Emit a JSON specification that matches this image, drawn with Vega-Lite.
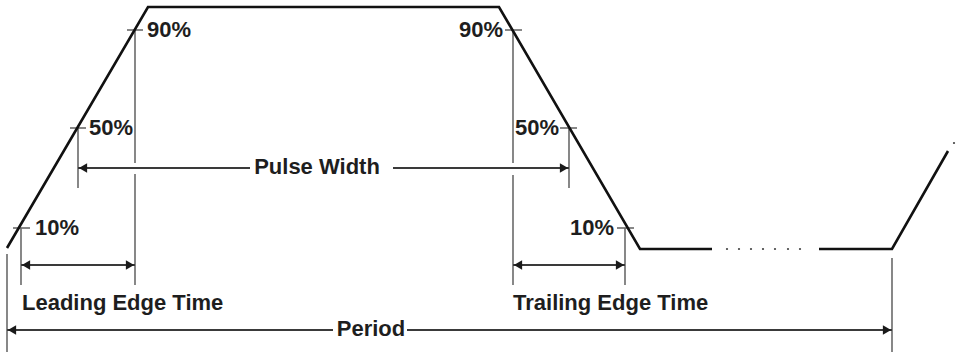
{
  "$schema": "https://vega.github.io/schema/vega-lite/v6.json",
  "width": 956,
  "height": 352,
  "padding": 0,
  "autosize": "none",
  "background": "white",
  "config": {"view": {"stroke": null}},
  "datasets": {
    "wave": [
      {"seg": 1, "i": 0, "x": 7, "y": 248},
      {"seg": 1, "i": 1, "x": 148, "y": 7},
      {"seg": 1, "i": 2, "x": 499, "y": 7},
      {"seg": 1, "i": 3, "x": 640, "y": 249},
      {"seg": 1, "i": 4, "x": 712, "y": 249},
      {"seg": 2, "i": 0, "x": 819, "y": 249},
      {"seg": 2, "i": 1, "x": 892, "y": 249},
      {"seg": 2, "i": 2, "x": 948, "y": 151}
    ],
    "dots": [
      {"x": 727, "y": 249}, {"x": 739, "y": 249}, {"x": 751, "y": 249}, {"x": 763, "y": 249},
      {"x": 775, "y": 249}, {"x": 788, "y": 249}, {"x": 800, "y": 249}, {"x": 954, "y": 143}
    ],
    "guides": [
      {"x": 127, "x2": 143, "y": 30, "y2": 30},
      {"x": 70, "x2": 86, "y": 128, "y2": 128},
      {"x": 13, "x2": 30, "y": 228, "y2": 228},
      {"x": 505, "x2": 522, "y": 30, "y2": 30},
      {"x": 560, "x2": 577, "y": 128, "y2": 128},
      {"x": 617, "x2": 634, "y": 228, "y2": 228},
      {"x": 135, "x2": 135, "y": 30, "y2": 163},
      {"x": 135, "x2": 135, "y": 174, "y2": 285},
      {"x": 78, "x2": 78, "y": 128, "y2": 188},
      {"x": 21, "x2": 21, "y": 228, "y2": 285},
      {"x": 513, "x2": 513, "y": 30, "y2": 163},
      {"x": 513, "x2": 513, "y": 175, "y2": 285},
      {"x": 569, "x2": 569, "y": 128, "y2": 188},
      {"x": 625, "x2": 625, "y": 228, "y2": 285},
      {"x": 7, "x2": 7, "y": 254, "y2": 352},
      {"x": 892, "x2": 892, "y": 258, "y2": 352}
    ],
    "arrows": [
      {"x": 21, "x2": 135, "y": 265, "y2": 265},
      {"x": 513, "x2": 625, "y": 265, "y2": 265},
      {"x": 78, "x2": 250, "y": 168, "y2": 168},
      {"x": 393, "x2": 569, "y": 168, "y2": 168},
      {"x": 7, "x2": 333, "y": 330, "y2": 330},
      {"x": 407, "x2": 892, "y": 330, "y2": 330}
    ],
    "heads": [
      {"dir": "left", "x": 21, "y": 265},
      {"dir": "left", "x": 513, "y": 265},
      {"dir": "left", "x": 78, "y": 168},
      {"dir": "left", "x": 7, "y": 330},
      {"dir": "right", "x": 135, "y": 265},
      {"dir": "right", "x": 625, "y": 265},
      {"dir": "right", "x": 569, "y": 168},
      {"dir": "right", "x": 892, "y": 330}
    ],
    "labels": [
      {"pos": "left", "label": "90%", "x": 147, "y": 30},
      {"pos": "left", "label": "50%", "x": 89, "y": 128},
      {"pos": "left", "label": "10%", "x": 35, "y": 228},
      {"pos": "left", "label": "Leading Edge Time", "x": 22, "y": 303},
      {"pos": "left", "label": "Trailing Edge Time", "x": 513, "y": 303},
      {"pos": "right", "label": "90%", "x": 503, "y": 30},
      {"pos": "right", "label": "50%", "x": 559, "y": 128},
      {"pos": "right", "label": "10%", "x": 614, "y": 228},
      {"pos": "center", "label": "Pulse Width", "x": 317, "y": 167},
      {"pos": "center", "label": "Period", "x": 371, "y": 329}
    ]
  },
  "encoding": {
    "x": {"field": "x", "type": "quantitative", "scale": {"domain": [0, 956], "nice": false, "zero": false}, "axis": null},
    "y": {"field": "y", "type": "quantitative", "scale": {"domain": [0, 352], "nice": false, "zero": false, "reverse": true}, "axis": null}
  },
  "layer": [
    {
      "data": {"name": "guides"},
      "mark": {"type": "rule", "color": "#6a6a6a", "strokeWidth": 1.6},
      "encoding": {"x2": {"field": "x2"}, "y2": {"field": "y2"}}
    },
    {
      "data": {"name": "arrows"},
      "mark": {"type": "rule", "color": "#3a3a3a", "strokeWidth": 2},
      "encoding": {"x2": {"field": "x2"}, "y2": {"field": "y2"}}
    },
    {
      "data": {"name": "heads"},
      "transform": [{"filter": "datum.dir === 'left'"}],
      "mark": {"type": "point", "shape": "triangle-left", "filled": true, "color": "#1a1a1a", "opacity": 1, "size": 90, "xOffset": 5}
    },
    {
      "data": {"name": "heads"},
      "transform": [{"filter": "datum.dir === 'right'"}],
      "mark": {"type": "point", "shape": "triangle-right", "filled": true, "color": "#1a1a1a", "opacity": 1, "size": 90, "xOffset": -5}
    },
    {
      "data": {"name": "wave"},
      "mark": {"type": "line", "color": "#111111", "strokeWidth": 2.6, "strokeJoin": "miter"},
      "encoding": {"detail": {"field": "seg"}, "order": {"field": "i", "type": "quantitative"}}
    },
    {
      "data": {"name": "dots"},
      "mark": {"type": "point", "shape": "circle", "filled": true, "color": "#444444", "opacity": 1, "size": 5}
    },
    {
      "data": {"name": "labels"},
      "transform": [{"filter": "datum.pos === 'left'"}],
      "mark": {"type": "text", "align": "left", "baseline": "middle", "font": "Liberation Sans", "fontWeight": "bold", "fontSize": 22, "color": "#1e1e1e"},
      "encoding": {"text": {"field": "label"}}
    },
    {
      "data": {"name": "labels"},
      "transform": [{"filter": "datum.pos === 'right'"}],
      "mark": {"type": "text", "align": "right", "baseline": "middle", "font": "Liberation Sans", "fontWeight": "bold", "fontSize": 22, "color": "#1e1e1e"},
      "encoding": {"text": {"field": "label"}}
    },
    {
      "data": {"name": "labels"},
      "transform": [{"filter": "datum.pos === 'center'"}],
      "mark": {"type": "text", "align": "center", "baseline": "middle", "font": "Liberation Sans", "fontWeight": "bold", "fontSize": 22, "color": "#1e1e1e"},
      "encoding": {"text": {"field": "label"}}
    }
  ]
}
